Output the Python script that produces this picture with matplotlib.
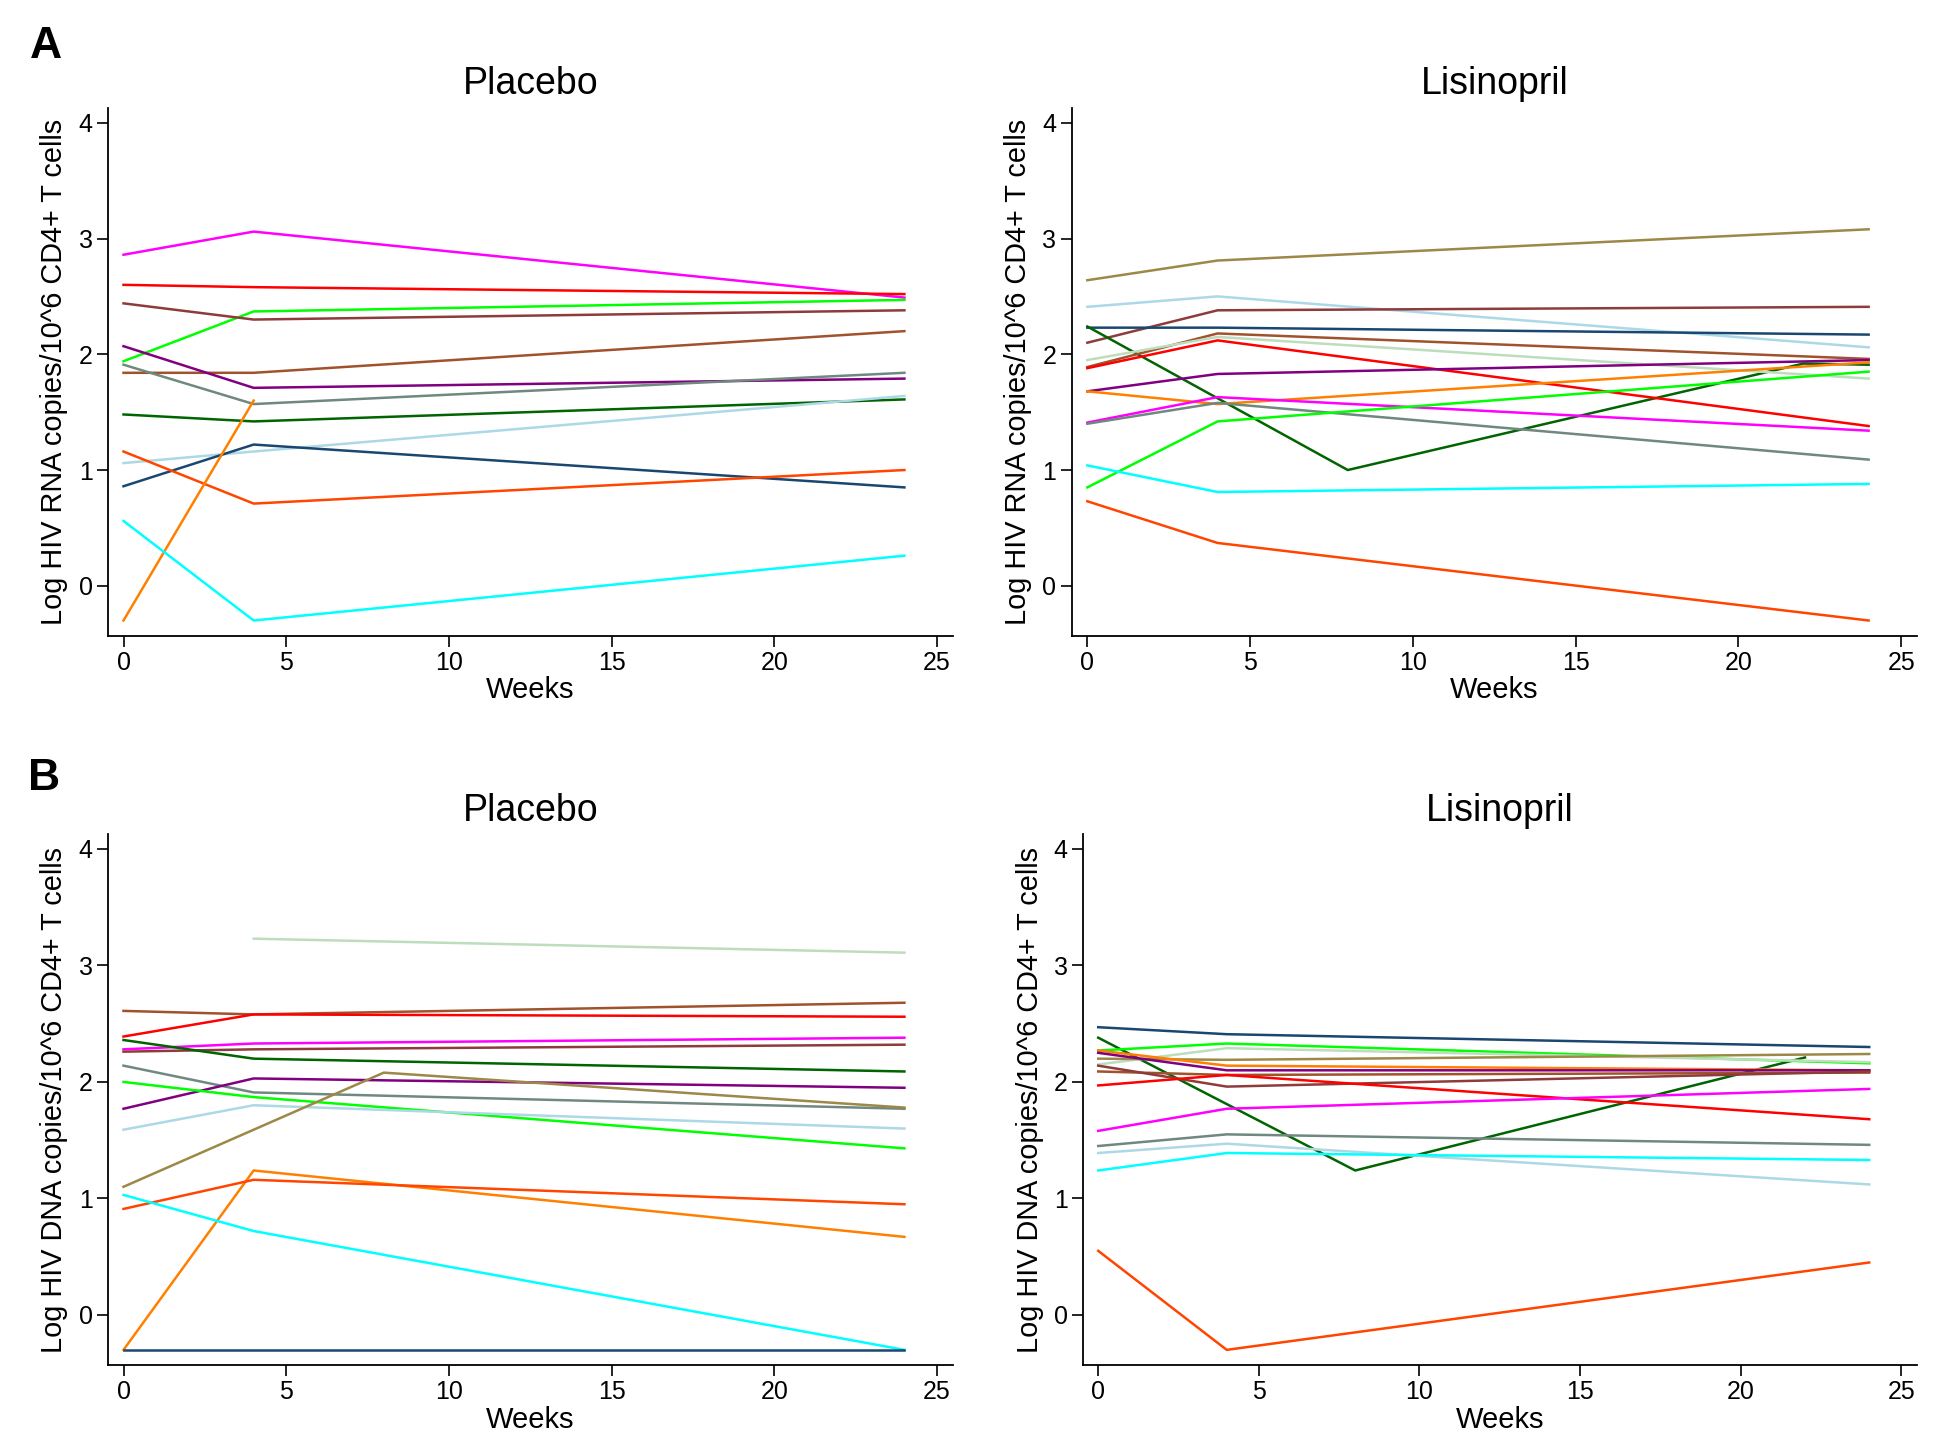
import matplotlib
matplotlib.use("Agg")
import matplotlib.pyplot as plt
from matplotlib import font_manager

# ----------------------------
# colours (Stata-like palette)
# ----------------------------
COL = {
    "magenta": "#FF00FF",
    "red": "#FF0000",
    "lime": "#00FF00",
    "maroon": "#8E3B3B",
    "sienna": "#A0522D",
    "purple": "#800080",
    "gray": "#6F8880",
    "dkgreen": "#006400",
    "ltblue": "#ADD8E6",
    "navy": "#1A476F",
    "orangered": "#FF4500",
    "orange": "#FF8000",
    "cyan": "#00FFFF",
    "tan": "#9C8847",
    "palegreen": "#BDDDBD",
}

# ---------- A: RNA, placebo ----------
rna_pla_colors = ["magenta", "red", "lime", "maroon", "sienna", "purple", "gray",
                  "dkgreen", "ltblue", "navy", "orangered", "orange", "cyan"]
rna_pla_weeks = [[0, 4, 24], [0, 4, 24], [0, 4, 24], [0, 4, 24], [0, 4, 24],
                 [0, 4, 24], [0, 4, 24], [0, 4, 24], [0, 4, 24], [0, 4, 24],
                 [0, 4, 24], [0, 4], [0, 4, 24]]
rna_pla_values = [[2.86, 3.06, 2.49], [2.60, 2.58, 2.52], [1.94, 2.37, 2.47],
                  [2.44, 2.30, 2.38], [1.84, 1.84, 2.20], [2.07, 1.71, 1.79],
                  [1.91, 1.57, 1.84], [1.48, 1.42, 1.61], [1.06, 1.16, 1.64],
                  [0.86, 1.22, 0.85], [1.16, 0.71, 1.00], [-0.30, 1.60],
                  [0.56, -0.30, 0.26]]

# ---------- A: RNA, lisinopril ----------
rna_lis_colors = ["tan", "ltblue", "maroon", "navy", "dkgreen", "sienna", "palegreen",
                  "red", "purple", "orange", "magenta", "gray", "lime", "cyan",
                  "orangered"]
rna_lis_weeks = [[0, 4, 24], [0, 4, 24], [0, 4, 24], [0, 4, 24], [0, 4, 8, 22, 24],
                 [0, 4, 24], [0, 4, 24], [0, 4, 24], [0, 4, 24], [0, 4, 24],
                 [0, 4, 24], [0, 4, 24], [0, 4, 24], [0, 4, 24], [0, 4, 24]]
rna_lis_values = [[2.64, 2.81, 3.08], [2.41, 2.50, 2.06], [2.10, 2.38, 2.41],
                  [2.23, 2.23, 2.17], [2.24, 1.62, 1.00, 1.92, 1.91],
                  [1.89, 2.18, 1.96], [1.95, 2.15, 1.79], [1.88, 2.12, 1.38],
                  [1.68, 1.83, 1.95], [1.68, 1.57, 1.93], [1.41, 1.63, 1.34],
                  [1.40, 1.58, 1.09], [0.85, 1.42, 1.85], [1.04, 0.81, 0.88],
                  [0.73, 0.37, -0.30]]

# ---------- B: DNA, placebo ----------
dna_pla_colors = ["palegreen", "sienna", "red", "magenta", "maroon", "dkgreen", "gray",
                  "purple", "lime", "ltblue", "tan", "orange", "orangered", "cyan",
                  "navy"]
dna_pla_weeks = [[4, 24], [0, 4, 24], [0, 4, 24], [0, 4, 24], [0, 4, 24],
                 [0, 4, 24], [0, 4, 24], [0, 4, 24], [0, 4, 24], [0, 4, 24],
                 [0, 8, 24], [0, 4, 24], [0, 4, 24], [0, 4, 24], [0, 4, 24]]
dna_pla_values = [[3.23, 3.11], [2.61, 2.58, 2.68], [2.39, 2.58, 2.56],
                  [2.28, 2.33, 2.38], [2.26, 2.28, 2.32], [2.36, 2.20, 2.09],
                  [2.14, 1.91, 1.77], [1.77, 2.03, 1.95], [2.00, 1.87, 1.43],
                  [1.59, 1.80, 1.60], [1.10, 2.08, 1.78], [-0.30, 1.24, 0.67],
                  [0.91, 1.16, 0.95], [1.03, 0.72, -0.30], [-0.30, -0.30, -0.30]]

# ---------- B: DNA, lisinopril ----------
dna_lis_colors = ["navy", "dkgreen", "lime", "palegreen", "tan", "orange", "purple",
                  "sienna", "maroon", "red", "magenta", "gray", "ltblue", "cyan",
                  "orangered"]
dna_lis_weeks = [[0, 4, 24], [0, 4, 8, 22], [0, 4, 24], [0, 4, 24], [0, 4, 24],
                 [0, 4, 24], [0, 4, 24], [0, 4, 24], [0, 4, 24], [0, 4, 24],
                 [0, 4, 24], [0, 4, 24], [0, 4, 24], [0, 4, 24], [0, 4, 24]]
dna_lis_values = [[2.47, 2.41, 2.30], [2.38, 1.81, 1.24, 2.21], [2.27, 2.33, 2.16],
                  [2.15, 2.29, 2.17], [2.20, 2.19, 2.24], [2.27, 2.14, 2.10],
                  [2.25, 2.10, 2.10], [2.09, 2.06, 2.08], [2.14, 1.96, 2.09],
                  [1.97, 2.06, 1.68], [1.58, 1.77, 1.94], [1.45, 1.55, 1.46],
                  [1.39, 1.47, 1.12], [1.24, 1.39, 1.33], [0.55, -0.30, 0.45]]

X_TICKS = [0, 5, 10, 15, 20, 25]
Y_TICKS = [0, 1, 2, 3, 4]
RNA_LABEL = "Log HIV RNA copies/10^6 CD4+ T cells"
DNA_LABEL = "Log HIV DNA copies/10^6 CD4+ T cells"

# ---------- fonts ----------
names = {f.name for f in font_manager.fontManager.ttflist}
BASE = "Liberation Sans" if "Liberation Sans" in names else "DejaVu Sans"
NARROW = "Liberation Sans Narrow" if "Liberation Sans Narrow" in names else BASE
plt.rcParams["font.family"] = [BASE, "DejaVu Sans"]


def draw_panel(ax, colors, weeks, values, title, ylabel):
    for c, w, v in zip(colors, weeks, values):
        ax.plot(w, v, color=COL[c], lw=1.8, solid_joinstyle="miter")
    ax.set_xlim(-0.48, 25.48)
    ax.set_ylim(-0.43, 4.125)
    ax.set_xticks(X_TICKS)
    ax.set_yticks(Y_TICKS)
    ax.spines["top"].set_visible(False)
    ax.spines["right"].set_visible(False)
    for s in ("left", "bottom"):
        ax.spines[s].set_linewidth(1.3)
    ax.tick_params(direction="out", length=8, width=1.2, pad=3)
    for lab in ax.get_xticklabels() + ax.get_yticklabels():
        lab.set_fontsize(18)
        lab.set_family([NARROW, BASE])
    ax.set_title(title, fontsize=27, pad=10)
    ax.set_xlabel("Weeks", fontsize=21, labelpad=1)
    ax.set_ylabel(ylabel, fontsize=20.8)
    ax.yaxis.set_label_coords(-0.047, 0.5)


fig = plt.figure(figsize=(19.44, 14.56), dpi=100)

ax1 = fig.add_axes([0.0555, 0.5635, 0.4345, 0.3621])
ax2 = fig.add_axes([0.5513, 0.5635, 0.4347, 0.3621])
ax3 = fig.add_axes([0.0555, 0.0625, 0.4345, 0.3644])
ax4 = fig.add_axes([0.557, 0.0625, 0.429, 0.3644])

draw_panel(ax1, rna_pla_colors, rna_pla_weeks, rna_pla_values, "Placebo", RNA_LABEL)
draw_panel(ax2, rna_lis_colors, rna_lis_weeks, rna_lis_values, "Lisinopril", RNA_LABEL)
draw_panel(ax3, dna_pla_colors, dna_pla_weeks, dna_pla_values, "Placebo", DNA_LABEL)
draw_panel(ax4, dna_lis_colors, dna_lis_weeks, dna_lis_values, "Lisinopril", DNA_LABEL)

fig.text(30 / 1944, 1 - 26 / 1456, "A", fontsize=32, fontweight="bold",
         ha="left", va="top")
fig.text(28 / 1944, 1 - 758 / 1456, "B", fontsize=32, fontweight="bold",
         ha="left", va="top")

fig.savefig("out.png", dpi=100)
